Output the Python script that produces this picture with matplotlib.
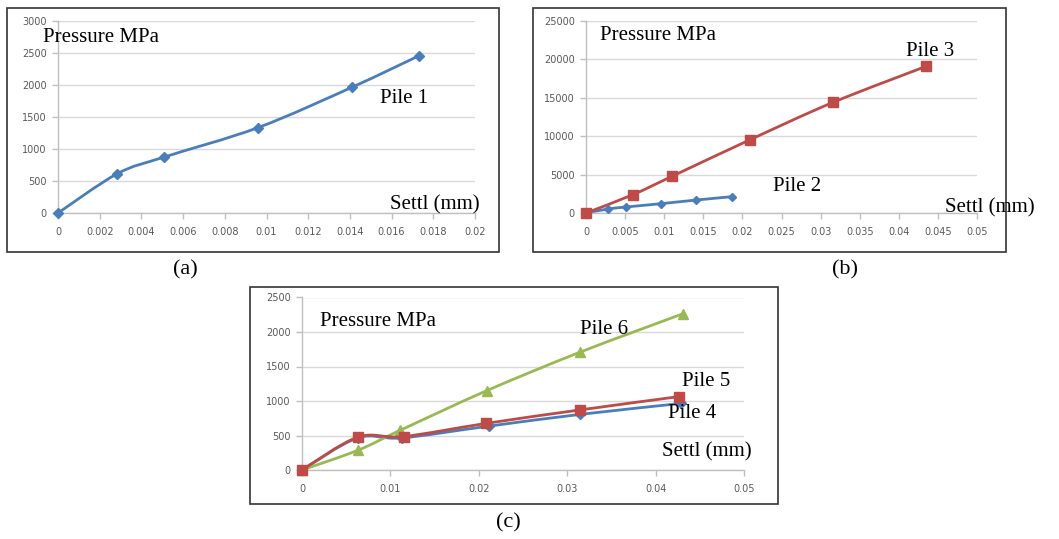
import matplotlib
matplotlib.use("Agg")
import matplotlib.pyplot as plt
from matplotlib.path import Path
from matplotlib.patches import PathPatch, Rectangle
import numpy as np

# ---------------- data ----------------
pile1_x = [0, 0.00285, 0.0051, 0.0096, 0.0141, 0.0173]
pile1_y = [0, 615, 875, 1335, 1965, 2455]

pile2_x = [0, 0.0028, 0.0051, 0.0096, 0.0141, 0.0187]
pile2_y = [0, 520, 780, 1215, 1690, 2130]

pile3_x = [0, 0.0060, 0.0110, 0.0210, 0.0316, 0.0435]
pile3_y = [0, 2390, 4775, 9550, 14410, 19100]

pile4_x = [0, 0.0063, 0.0113, 0.0211, 0.0314, 0.0429]
pile4_y = [0, 465, 465, 635, 805, 965]

pile5_x = [0, 0.0063, 0.0115, 0.0208, 0.0314, 0.0427]
pile5_y = [0, 475, 485, 675, 870, 1065]

pile6_x = [0, 0.0063, 0.0111, 0.0209, 0.0315, 0.0431]
pile6_y = [0, 285, 575, 1150, 1710, 2265]

xticks_a = [0, 0.002, 0.004, 0.006, 0.008, 0.01, 0.012, 0.014, 0.016, 0.018, 0.02]
xticklabels_a = ["0", "0.002", "0.004", "0.006", "0.008", "0.01", "0.012", "0.014", "0.016", "0.018", "0.02"]
yticks_a = [0, 500, 1000, 1500, 2000, 2500, 3000]

xticks_b = [0, 0.005, 0.01, 0.015, 0.02, 0.025, 0.03, 0.035, 0.04, 0.045, 0.05]
xticklabels_b = ["0", "0.005", "0.01", "0.015", "0.02", "0.025", "0.03", "0.035", "0.04", "0.045", "0.05"]
yticks_b = [0, 5000, 10000, 15000, 20000, 25000]

xticks_c = [0, 0.01, 0.02, 0.03, 0.04, 0.05]
xticklabels_c = ["0", "0.01", "0.02", "0.03", "0.04", "0.05"]
yticks_c = [0, 500, 1000, 1500, 2000, 2500]

BLUE = "#4A7EBB"
RED = "#BE4B48"
GREEN = "#98B954"
TICKC = "#595959"
GRIDC = "#D9D9D9"
SERIF = "Liberation Serif"

W, H = 1059, 539
fig = plt.figure(figsize=(W / 100, H / 100), dpi=100)


def px_rect(x0, y0, x1, y1):
    return [x0 / W, 1 - y1 / H, (x1 - x0) / W, (y1 - y0) / H]


def smooth_line(ax, xs, ys, color, lw=2.0, z=2):
    P = np.column_stack([xs, ys]).astype(float)
    n = len(P)
    verts = [tuple(P[0])]
    codes = [Path.MOVETO]
    for i in range(n - 1):
        p0 = P[i - 1] if i > 0 else P[i]
        p1 = P[i]
        p2 = P[i + 1]
        p3 = P[i + 2] if i + 2 < n else P[i + 1]
        c1 = p1 + (p2 - p0) / 6.0
        c2 = p2 - (p3 - p1) / 6.0
        verts += [tuple(c1), tuple(c2), tuple(p2)]
        codes += [Path.CURVE4] * 3
    patch = PathPatch(Path(verts, codes), facecolor="none", edgecolor=color,
                      lw=lw, zorder=z, capstyle="round", joinstyle="round",
                      clip_on=False)
    ax.add_patch(patch)


def style_axes(ax, xticks, xlabels, yticks, xlim, ylim):
    ax.set_xlim(*xlim)
    ax.set_ylim(*ylim)
    ax.set_xticks(xticks)
    ax.set_xticklabels(xlabels)
    ax.set_yticks(yticks)
    ax.set_yticklabels([str(v) for v in yticks])
    ax.yaxis.grid(True, color=GRIDC, lw=1.0)
    ax.set_axisbelow(True)
    for s in ["top", "right"]:
        ax.spines[s].set_visible(False)
    for s in ["left", "bottom"]:
        ax.spines[s].set_color("#BFBFBF")
        ax.spines[s].set_linewidth(1.0)
    ax.tick_params(axis="both", colors="#BFBFBF", labelcolor=TICKC,
                   labelsize=7, length=4, width=1.0, direction="out")
    ax.tick_params(axis="x", pad=6)
    ax.tick_params(axis="y", pad=4)
    ax.set_facecolor("none")


def frame(x0, y0, x1, y1):
    r = Rectangle((x0 / W, 1 - y1 / H), (x1 - x0) / W, (y1 - y0) / H,
                  transform=fig.transFigure, fill=False, edgecolor="#333333",
                  lw=1.2, zorder=0)
    fig.patches.append(r)


frame(7, 8, 499, 252)
frame(533, 8, 1006, 252)
frame(250, 287, 778, 504)

# ---------------- panel (a) ----------------
axa = fig.add_axes(px_rect(58, 21, 475, 213))
style_axes(axa, xticks_a, xticklabels_a, yticks_a, (0, 0.02), (0, 3000))
smooth_line(axa, pile1_x, pile1_y, BLUE)
axa.plot(pile1_x, pile1_y, ls="none", marker="D", ms=5, color=BLUE, zorder=3,
         clip_on=False)

# ---------------- panel (b) ----------------
axb = fig.add_axes(px_rect(586, 21, 977, 213))
style_axes(axb, xticks_b, xticklabels_b, yticks_b, (0, 0.05), (0, 25000))
smooth_line(axb, pile2_x, pile2_y, BLUE)
axb.plot(pile2_x, pile2_y, ls="none", marker="D", ms=4.5, color=BLUE, zorder=3,
         clip_on=False)
smooth_line(axb, pile3_x, pile3_y, RED)
axb.plot(pile3_x, pile3_y, ls="none", marker="s", ms=6.5, color=RED, zorder=3,
         clip_on=False)

# ---------------- panel (c) ----------------
axc = fig.add_axes(px_rect(302, 297.5, 744, 470))
style_axes(axc, xticks_c, xticklabels_c, yticks_c, (0, 0.05), (0, 2500))
smooth_line(axc, pile4_x, pile4_y, BLUE)
axc.plot(pile4_x, pile4_y, ls="none", marker="D", ms=5, color=BLUE, zorder=3,
         clip_on=False)
smooth_line(axc, pile6_x, pile6_y, GREEN, z=2)
axc.plot(pile6_x, pile6_y, ls="none", marker="^", ms=6.5, color=GREEN, zorder=3,
         clip_on=False)
smooth_line(axc, pile5_x, pile5_y, RED, z=4)
axc.plot(pile5_x, pile5_y, ls="none", marker="s", ms=6.5, color=RED, zorder=5,
         clip_on=False)

# ---------------- annotations ----------------
def ftext(x, y, s, ha="left", size=15):
    fig.text(x / W, 1 - y / H, s, ha=ha, va="center", fontsize=size,
             family=SERIF, color="black")


ftext(43, 38, "Pressure MPa")
ftext(380, 98, "Pile 1")
ftext(390, 205, "Settl (mm)")

ftext(600, 35, "Pressure MPa")
ftext(906, 52, "Pile 3")
ftext(773, 187, "Pile 2")
ftext(945, 208, "Settl (mm)")

ftext(320, 322, "Pressure MPa")
ftext(580, 330, "Pile 6")
ftext(682, 381, "Pile 5")
ftext(668, 413, "Pile 4")
ftext(662, 452, "Settl (mm)")

ftext(185, 270, "(a)", ha="center", size=16)
ftext(845, 270, "(b)", ha="center", size=16)
ftext(508, 523, "(c)", ha="center", size=16)

fig.savefig("out.png", dpi=100)
